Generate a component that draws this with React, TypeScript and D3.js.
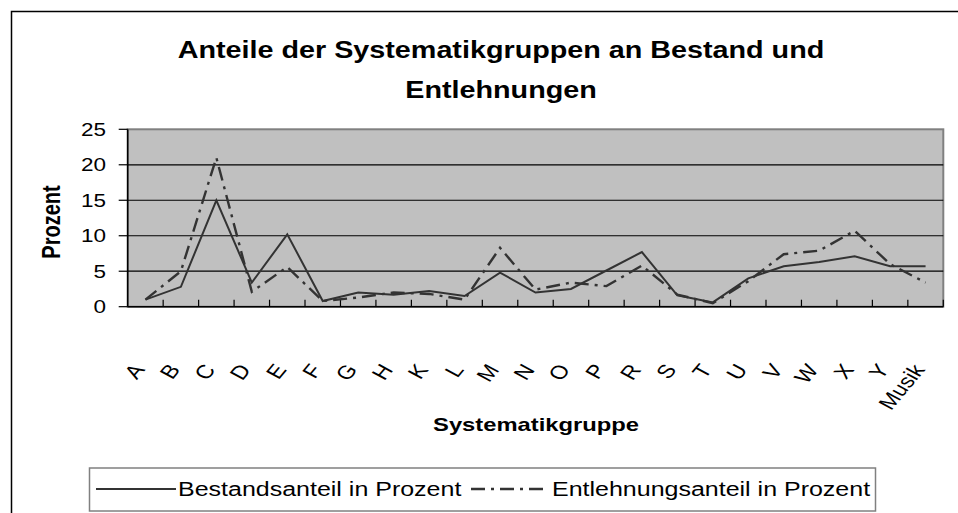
import React, { useEffect, useRef } from "react";
import * as d3 from "d3";

// Systematikgruppen (x axis)
const categories = [
  "A", "B", "C", "D", "E", "F", "G", "H", "K", "L", "M", "N",
  "O", "P", "R", "S", "T", "U", "V", "W", "X", "Y", "Musik",
];

// Bestandsanteil in Prozent
const bestand = [
  1.0, 2.8, 15.0, 3.4, 10.2, 0.8, 2.0, 1.7, 2.2, 1.5, 4.8, 2.0,
  2.5, 5.1, 7.7, 1.6, 0.6, 4.0, 5.7, 6.3, 7.1, 5.7, 5.7,
];

// Entlehnungsanteil in Prozent
const entlehnung = [
  1.0, 5.0, 21.0, 2.1, 5.6, 0.8, 1.3, 2.0, 1.8, 1.0, 8.3, 2.4,
  3.4, 2.9, 5.8, 1.7, 0.5, 3.6, 7.4, 7.9, 10.7, 6.0, 3.4,
];

const yTicks = [0, 5, 10, 15, 20, 25];

const App = () => {
  const svgRef = useRef<SVGSVGElement>(null);

  useEffect(() => {
    const W = 958;
    const H = 513;
    const plot = { left: 127.7, right: 943.3, top: 129.3, bottom: 306.7 };
    const font = "Arial, 'Liberation Sans', sans-serif";
    const sx = 1.25; // the original picture is stretched horizontally
    const lineColor = "#333";

    const svg = d3.select(svgRef.current).attr("width", W).attr("height", H);
    svg.selectAll("*").remove();

    // chart frame
    svg
      .append("path")
      .attr("d", `M11.5,${H} V11.5 H${W}`)
      .attr("fill", "none")
      .attr("stroke", "#000")
      .attr("stroke-width", 1.5);

    const x = d3
      .scaleBand()
      .domain(categories)
      .range([plot.left, plot.right])
      .paddingInner(0)
      .paddingOuter(0);

    const y = d3.scaleLinear().domain([0, 25]).range([plot.bottom, plot.top]);

    const cx = (c: string) => (x(c) as number) + x.bandwidth() / 2;

    // plot area
    svg
      .append("rect")
      .attr("x", plot.left)
      .attr("y", plot.top)
      .attr("width", plot.right - plot.left)
      .attr("height", plot.bottom - plot.top)
      .attr("fill", "#c0c0c0")
      .attr("stroke", "#808080")
      .attr("stroke-width", 2);

    // grid lines
    svg
      .append("g")
      .selectAll("line")
      .data(yTicks.filter((t) => t > 0 && t < 25))
      .join("line")
      .attr("x1", plot.left)
      .attr("x2", plot.right)
      .attr("y1", (d) => y(d))
      .attr("y2", (d) => y(d))
      .attr("stroke", "#000")
      .attr("stroke-width", 1.2);

    // y axis line + ticks
    svg
      .append("line")
      .attr("x1", plot.left)
      .attr("x2", plot.left)
      .attr("y1", plot.top)
      .attr("y2", plot.bottom)
      .attr("stroke", "#000")
      .attr("stroke-width", 1.5);

    svg
      .append("g")
      .selectAll("line")
      .data(yTicks)
      .join("line")
      .attr("x1", plot.left - 9)
      .attr("x2", plot.left)
      .attr("y1", (d) => y(d))
      .attr("y2", (d) => y(d))
      .attr("stroke", "#000")
      .attr("stroke-width", 1.2);

    svg
      .append("g")
      .selectAll("text")
      .data(yTicks)
      .join("text")
      .attr("transform", (d) => `translate(106,${y(d)}) scale(${sx},1)`)
      .attr("dy", "0.36em")
      .attr("text-anchor", "end")
      .style("font-family", font)
      .style("font-size", "18px")
      .text((d) => d);

    // x axis line + inside ticks at band edges
    svg
      .append("line")
      .attr("x1", plot.left)
      .attr("x2", plot.right)
      .attr("y1", plot.bottom)
      .attr("y2", plot.bottom)
      .attr("stroke", "#000")
      .attr("stroke-width", 1.5);

    svg
      .append("g")
      .selectAll("line")
      .data(categories.slice(1).concat(["__end"]))
      .join("line")
      .attr("x1", (d) => (d === "__end" ? plot.right : (x(d) as number)))
      .attr("x2", (d) => (d === "__end" ? plot.right : (x(d) as number)))
      .attr("y1", plot.bottom - 7)
      .attr("y2", plot.bottom)
      .attr("stroke", "#000")
      .attr("stroke-width", 1.2);

    // x labels, rotated
    svg
      .append("g")
      .selectAll("text")
      .data(categories)
      .join("text")
      .attr("transform", (d) => `translate(${cx(d) - 7},366) scale(${sx},1) rotate(-56)`)
      .attr("dy", "0.36em")
      .attr("text-anchor", "end")
      .style("font-family", font)
      .style("font-size", "19px")
      .text((d) => d);

    // lines
    const line = d3
      .line<number>()
      .x((_, i) => cx(categories[i]))
      .y((d) => y(d));

    svg
      .append("path")
      .datum(bestand)
      .attr("d", line)
      .attr("fill", "none")
      .attr("stroke", lineColor)
      .attr("stroke-width", 2);

    svg
      .append("path")
      .datum(entlehnung)
      .attr("d", line)
      .attr("fill", "none")
      .attr("stroke", lineColor)
      .attr("stroke-width", 2.4)
      .attr("stroke-dasharray", "14,6,3,6");

    // title
    const title = svg
      .append("text")
      .attr("text-anchor", "middle")
      .style("font-family", font)
      .style("font-size", "23px")
      .style("font-weight", "bold")
      .attr("transform", `translate(501,0) scale(${sx},1)`);
    title.append("tspan").attr("x", 0).attr("y", 58.5).text("Anteile der Systematikgruppen an Bestand und");
    title.append("tspan").attr("x", 0).attr("y", 98.5).text("Entlehnungen");

    // axis titles
    svg
      .append("text")
      .attr("transform", `translate(51,222) scale(${sx},1) rotate(-90)`)
      .attr("text-anchor", "middle")
      .attr("dy", "0.36em")
      .style("font-family", font)
      .style("font-size", "20px")
      .style("font-weight", "bold")
      .text("Prozent");

    svg
      .append("text")
      .attr("transform", `translate(536,431) scale(${sx},1)`)
      .attr("text-anchor", "middle")
      .style("font-family", font)
      .style("font-size", "19px")
      .style("font-weight", "bold")
      .text("Systematikgruppe");

    // legend
    const legend = svg.append("g");
    legend
      .append("rect")
      .attr("x", 89.5)
      .attr("y", 468)
      .attr("width", 786)
      .attr("height", 43)
      .attr("fill", "#fff")
      .attr("stroke", "#808080")
      .attr("stroke-width", 1.5);

    const items = [
      { label: "Bestandsanteil in Prozent", x1: 96, x2: 176, tx: 178, dash: null },
      { label: "Entlehnungsanteil in Prozent", x1: 471, x2: 546, tx: 552, dash: "14,6,3,6" },
    ];

    items.forEach((it) => {
      legend
        .append("line")
        .attr("x1", it.x1)
        .attr("x2", it.x2)
        .attr("y1", 489)
        .attr("y2", 489)
        .attr("stroke", lineColor)
        .attr("stroke-width", it.dash ? 2.4 : 2)
        .attr("stroke-dasharray", it.dash);
      legend
        .append("text")
        .attr("transform", `translate(${it.tx},496) scale(${sx},1)`)
        .style("font-family", font)
        .style("font-size", "20px")
        .text(it.label);
    });
  }, []);

  return (
    <svg
      ref={svgRef}
      style={{ position: "absolute", left: 0, top: 0, background: "#fff" }}
    ></svg>
  );
};

export default App;
